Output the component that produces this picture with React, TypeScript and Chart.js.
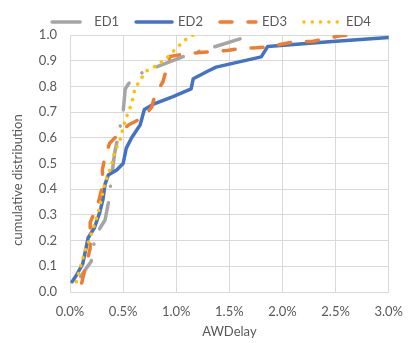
import React, { useEffect, useRef } from "react";
import { Chart, registerables } from "chart.js";

Chart.register(...registerables);

const seriesNames = ["ED1", "ED2", "ED3", "ED4"];

const ed1X = [0.10, 0.20, 0.22, 0.27, 0.33, 0.36, 0.38, 0.42, 0.44, 0.47, 0.50, 0.52, 0.55, 0.66, 0.78, 1.06, 1.20, 1.33, 1.60];
const ed1Y = [0.06, 0.12, 0.18, 0.24, 0.28, 0.345, 0.41, 0.54, 0.58, 0.64, 0.70, 0.79, 0.81, 0.85, 0.87, 0.915, 0.935, 0.95, 0.985];

const ed2X = [0.02, 0.06, 0.12, 0.17, 0.23, 0.28, 0.31, 0.33, 0.36, 0.44, 0.50, 0.53, 0.58, 0.66, 0.70, 0.78, 0.97, 1.14, 1.16, 1.30, 1.375, 1.80, 1.86, 2.47, 3.00];
const ed2Y = [0.04, 0.065, 0.11, 0.21, 0.25, 0.31, 0.36, 0.42, 0.455, 0.475, 0.50, 0.56, 0.60, 0.65, 0.71, 0.73, 0.76, 0.79, 0.83, 0.86, 0.875, 0.915, 0.955, 0.975, 0.99];

const ed3X = [0.11, 0.19, 0.19, 0.23, 0.275, 0.31, 0.305, 0.33, 0.375, 0.47, 0.55, 0.69, 0.77, 0.80, 0.875, 0.906, 0.94, 1.06, 1.22, 1.48, 1.61, 1.75, 1.89, 2.00, 2.14, 2.28, 2.40, 2.53, 2.62];
const ed3Y = [0.035, 0.17, 0.27, 0.31, 0.36, 0.42, 0.475, 0.53, 0.58, 0.62, 0.65, 0.68, 0.72, 0.767, 0.818, 0.864, 0.916, 0.925, 0.932, 0.94, 0.948, 0.95, 0.955, 0.965, 0.975, 0.975, 0.985, 0.996, 1.0];

const ed4X = [0.06, 0.10, 0.14, 0.18, 0.22, 0.26, 0.29, 0.32, 0.36, 0.39, 0.42, 0.47, 0.50, 0.53, 0.56, 0.59, 0.61, 0.66, 0.72, 0.81, 0.91, 0.98, 1.08, 1.16];
const ed4Y = [0.04, 0.10, 0.16, 0.20, 0.25, 0.30, 0.35, 0.41, 0.46, 0.49, 0.545, 0.59, 0.64, 0.68, 0.71, 0.75, 0.79, 0.825, 0.86, 0.88, 0.91, 0.94, 0.98, 1.0];

const xTickStep = 0.5;
const xMin = 0;
const xMax = 3;
const yTickStep = 0.1;
const xTitle = "AWDelay";
const yTitle = "cumulative distribution";

const FONT = "Lato";
const TEXT_COLOR = "#595959";
const GRID_COLOR = "#D9D9D9";

const toPoints = (xs: number[], ys: number[]) => xs.map((x, i) => ({ x, y: ys[i] }));

const overlayPlugin = {
  id: "overlay",
  afterDraw(chart: any) {
    const ctx = chart.ctx;
    ctx.save();
    ctx.font = `13px ${FONT}`;
    const sample = 36;
    const textOff = 42;
    const gap = 17;
    const ds = chart.data.datasets;
    const widths = ds.map((d: any) => textOff + ctx.measureText(d.label).width);
    const total = widths.reduce((a: number, b: number) => a + b, 0) + gap * (ds.length - 1);
    let x = (chart.width - total) / 2 + 4;
    const y = 22;
    ds.forEach((d: any, i: number) => {
      ctx.beginPath();
      ctx.setLineDash(d.borderDash || []);
      ctx.lineDashOffset = 0;
      ctx.lineCap = d.borderCapStyle || "butt";
      ctx.lineWidth = d.borderWidth;
      ctx.strokeStyle = d.borderColor;
      ctx.moveTo(x, y);
      ctx.lineTo(x + sample, y);
      ctx.stroke();
      ctx.setLineDash([]);
      ctx.fillStyle = TEXT_COLOR;
      ctx.textBaseline = "middle";
      ctx.textAlign = "left";
      ctx.fillText(d.label, x + textOff, y);
      x += widths[i] + gap;
    });
    const ca = chart.chartArea;
    ctx.fillStyle = TEXT_COLOR;
    ctx.textAlign = "center";
    ctx.textBaseline = "middle";
    ctx.fillText(xTitle, (ca.left + ca.right) / 2, 332);
    ctx.translate(18, 180);
    ctx.rotate(-Math.PI / 2);
    ctx.fillText(yTitle, 0, 0);
    ctx.restore();
  },
};

export default function App() {
  const ref = useRef<HTMLCanvasElement>(null);
  useEffect(() => {
    if (!ref.current) return;
    const common = { pointRadius: 0, pointHoverRadius: 0, showLine: true, fill: false, tension: 0, borderJoinStyle: "round" };
    const chart = new Chart(ref.current, {
      type: "scatter",
      data: {
        datasets: [
          { ...common, label: seriesNames[0], data: toPoints(ed1X, ed1Y), borderColor: "#A5A5A5", backgroundColor: "#A5A5A5", borderWidth: 3.5, borderDash: [28, 16.5, 0.1, 16.4], borderDashOffset: 8.6, borderCapStyle: "round", order: 4 },
          { ...common, label: seriesNames[1], data: toPoints(ed2X, ed2Y), borderColor: "#4472C4", backgroundColor: "#4472C4", borderWidth: 3.5, borderDash: [], borderCapStyle: "round", order: 3 },
          { ...common, label: seriesNames[2], data: toPoints(ed3X, ed3Y), borderColor: "#ED7D31", backgroundColor: "#ED7D31", borderWidth: 3.5, borderDash: [12, 16], borderCapStyle: "round", order: 2 },
          { ...common, label: seriesNames[3], data: toPoints(ed4X, ed4Y), borderColor: "#FFC000", backgroundColor: "#FFC000", borderWidth: 3.5, borderDash: [0.1, 8.2], borderCapStyle: "round", order: 1 },
        ] as any,
      },
      options: {
        responsive: false,
        animation: false,
        layout: { padding: { top: 35, left: 0, right: 25, bottom: 0 } },
        plugins: { legend: { display: false }, tooltip: { enabled: false } },
        scales: {
          x: {
            type: "linear",
            min: xMin,
            max: xMax,
            afterFit: (s: any) => { s.height = 51; },
            grid: { color: GRID_COLOR, lineWidth: 1, drawTicks: false },
            border: { display: true, color: GRID_COLOR },
            ticks: {
              stepSize: xTickStep,
              padding: 12,
              color: TEXT_COLOR,
              font: { family: FONT, size: 13 },
              callback: (v: any) => Number(v).toFixed(1) + "%",
            },
          },
          y: {
            type: "linear",
            min: 0,
            max: 1,
            afterFit: (s: any) => { s.width = 70; },
            grid: { color: GRID_COLOR, lineWidth: 1, drawTicks: false },
            border: { display: true, color: GRID_COLOR },
            ticks: {
              stepSize: yTickStep,
              padding: 13,
              color: TEXT_COLOR,
              font: { family: FONT, size: 13 },
              callback: (v: any) => Number(v).toFixed(1),
            },
          },
        },
      } as any,
      plugins: [overlayPlugin],
    });
    return () => chart.destroy();
  }, []);
  return (
    <div style={{ position: "fixed", left: 0, top: 0, width: 415, height: 343, background: "#fff" }}>
      <canvas ref={ref} width={415} height={343} style={{ display: "block" }} />
    </div>
  );
}
